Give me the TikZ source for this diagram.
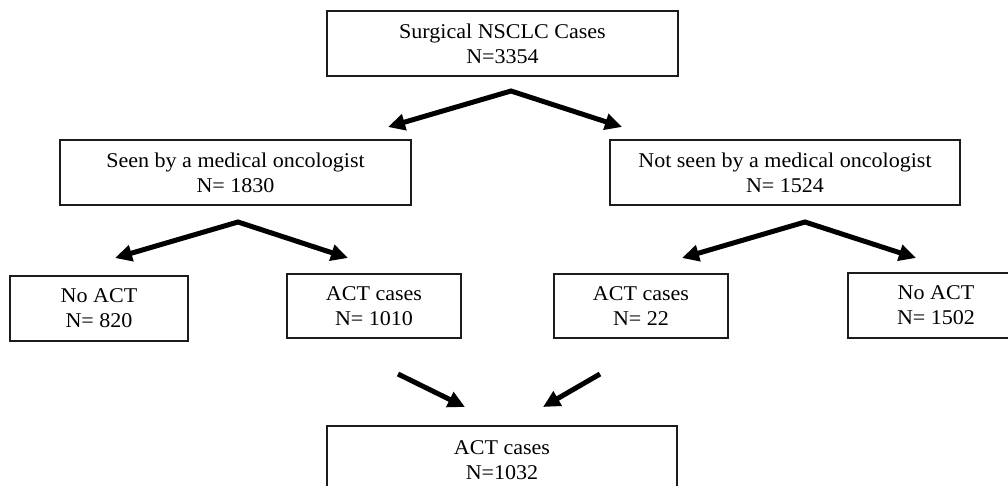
\documentclass[tikz,border=0pt]{standalone}
\usepackage{fontspec}
\setmainfont{Liberation Serif}[FakeStretch=1.05]
\usepackage{xcolor}
\usepackage{tikz}
\usetikzlibrary{arrows.meta}
\definecolor{BoxInk}{HTML}{1C1C1C}
\tikzset{
  flowchart/.style={x=1pt,y=-1pt,font=\fontsize{21}{25}\selectfont,text=black},
  casebox/.style={draw=BoxInk,line width=1.8pt,align=center,minimum height=65pt,inner sep=0pt},
  fork/.style={{Triangle[length=17pt,width=16pt]}-{Triangle[length=17pt,width=16pt]},line width=5pt,draw=black},
  merge/.style={-{Triangle[length=17pt,width=16pt]},line width=5pt,draw=black},
}

\begin{document}
\begin{tikzpicture}[flowchart]
  \useasboundingbox (0,0) rectangle (1008,486);

  \node[casebox,minimum width=351pt] (surgical) at (502.5,43.5)
    {Surgical NSCLC Cases\\N=3354};

  \node[casebox,minimum width=351pt] (seen) at (235.5,172.5)
    {Seen by a medical oncologist\\N= 1830};
  \node[casebox,minimum width=350pt] (notseen) at (785,172.5)
    {Not seen by a medical oncologist\\N= 1524};

  \node[casebox,minimum width=178pt] (seenNoAct) at (99,308.5) {No ACT\\N= 820};
  \node[casebox,minimum width=174pt,minimum height=64pt] (seenAct) at (374,306) {ACT cases\\N= 1010};
  \node[casebox,minimum width=174pt,minimum height=64pt] (notseenAct) at (641,306) {ACT cases\\N= 22};
  \node[casebox,minimum width=176pt] (notseenNoAct) at (936,305.5) {No ACT\\N= 1502};

  \node[casebox,minimum width=350pt,minimum height=68pt] (allAct) at (502,460)
    {ACT cases\\N=1032};

  % split points and arrow ends
  \coordinate (surgicalFork) at (511,91);
  \coordinate (surgicalL) at (388,127);
  \coordinate (surgicalR) at (622,127);
  \coordinate (seenFork) at (238,222);
  \coordinate (seenL) at (115,258);
  \coordinate (seenR) at (348,258);
  \coordinate (notseenFork) at (805,222);
  \coordinate (notseenL) at (682,258);
  \coordinate (notseenR) at (916,258);
  \coordinate (seenActOut) at (398,374);
  \coordinate (seenActIn) at (465,407);
  \coordinate (notseenActOut) at (600,374);
  \coordinate (notseenActIn) at (543,407);

  \draw[fork] (surgicalL) -- (surgicalFork) -- (surgicalR);
  \draw[fork] (seenL) -- (seenFork) -- (seenR);
  \draw[fork] (notseenL) -- (notseenFork) -- (notseenR);
  \draw[merge] (seenActOut) -- (seenActIn);
  \draw[merge] (notseenActOut) -- (notseenActIn);
\end{tikzpicture}
\end{document}
